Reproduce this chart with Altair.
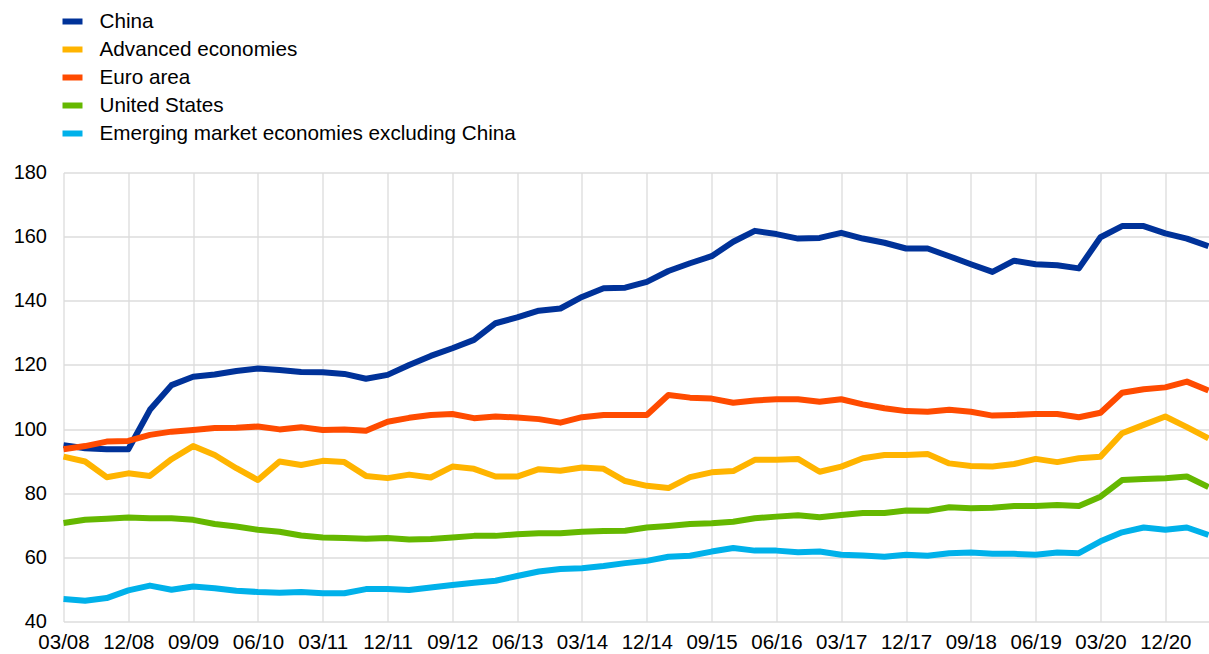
import altair as alt
import pandas as pd

# Quarterly data, Q1 2008 - Q2 2021
tick_labels = ["03/08", "12/08", "09/09", "06/10", "03/11", "12/11", "09/12", "06/13", "03/14",
               "12/14", "09/15", "06/16", "03/17", "12/17", "09/18", "06/19", "03/20", "12/20"]

series_names = ["China", "Advanced economies", "Euro area", "United States",
                "Emerging market economies excluding China"]
series_colors = ["#003299", "#FFB400", "#FF4B00", "#65B800", "#00B1EA"]

china = [95.0, 94.0, 93.7, 93.7, 106.0, 113.7, 116.3, 117.0, 118.1, 118.9,
         118.4, 117.8, 117.7, 117.2, 115.7, 116.9, 120.0, 122.8, 125.2, 127.8,
         133.0, 134.8, 136.9, 137.6, 141.2, 143.9, 144.1, 145.9, 149.3, 151.7,
         153.9, 158.4, 161.8, 160.8, 159.4, 159.6, 161.2, 159.4, 158.1, 156.3,
         156.3, 153.9, 151.4, 149.0, 152.5, 151.4, 151.1, 150.1, 159.8, 163.3,
         163.3, 161.0, 159.4, 157.0]
advanced = [91.4, 89.9, 85.0, 86.2, 85.4, 90.6, 94.7, 91.9, 87.8, 84.1,
            89.9, 88.8, 90.1, 89.7, 85.4, 84.7, 85.8, 84.9, 88.3, 87.6,
            85.2, 85.2, 87.5, 87.0, 88.0, 87.6, 83.8, 82.3, 81.6, 85.0,
            86.5, 86.9, 90.4, 90.4, 90.7, 86.7, 88.3, 90.9, 91.9, 91.9,
            92.2, 89.3, 88.5, 88.3, 89.1, 90.7, 89.7, 90.9, 91.4, 98.7,
            101.3, 103.9, 100.6, 97.1]
euro = [93.7, 94.7, 96.1, 96.3, 98.2, 99.2, 99.7, 100.3, 100.4, 100.8,
        99.9, 100.6, 99.7, 99.9, 99.5, 102.3, 103.5, 104.4, 104.7, 103.4,
        103.9, 103.6, 103.1, 102.0, 103.7, 104.4, 104.4, 104.4, 110.6, 109.8,
        109.5, 108.2, 108.9, 109.3, 109.3, 108.5, 109.3, 107.7, 106.5, 105.6,
        105.4, 106.0, 105.4, 104.2, 104.4, 104.7, 104.7, 103.7, 105.1, 111.3,
        112.4, 113.0, 114.8, 112.0]
us = [70.7, 71.7, 72.0, 72.4, 72.2, 72.2, 71.7, 70.4, 69.6, 68.6,
      68.0, 66.8, 66.2, 66.0, 65.8, 66.0, 65.6, 65.7, 66.2, 66.7,
      66.7, 67.2, 67.5, 67.5, 68.0, 68.2, 68.3, 69.3, 69.8, 70.4,
      70.6, 71.1, 72.2, 72.7, 73.1, 72.5, 73.2, 73.8, 73.8, 74.6,
      74.5, 75.6, 75.3, 75.5, 76.0, 76.0, 76.3, 76.0, 78.9, 84.1,
      84.4, 84.7, 85.2, 81.9]
eme = [47.0, 46.5, 47.3, 49.7, 51.2, 49.9, 50.9, 50.4, 49.6, 49.2,
       49.0, 49.2, 48.8, 48.8, 50.1, 50.1, 49.8, 50.6, 51.4, 52.1,
       52.7, 54.2, 55.6, 56.4, 56.6, 57.3, 58.2, 58.9, 60.2, 60.5,
       61.8, 62.9, 62.1, 62.1, 61.6, 61.8, 60.8, 60.6, 60.2, 60.8,
       60.5, 61.3, 61.5, 61.1, 61.1, 60.8, 61.5, 61.3, 65.0, 67.8,
       69.3, 68.6, 69.3, 67.0]

all_series = [china, advanced, euro, us, eme]
rows = []
for order, (name, vals) in enumerate(zip(series_names, all_series)):
    for q, v in enumerate(vals):
        rows.append({"quarter": q, "series": name, "value": v, "order": order})
df = pd.DataFrame(rows)

n_q = len(china)
tick_values = list(range(0, 3 * len(tick_labels), 3))
label_js = "[" + ",".join("'" + t + "'" for t in tick_labels) + "]"

FONT = "Liberation Sans"

chart = alt.Chart(df).mark_line(strokeWidth=6, strokeJoin="round").encode(
    x=alt.X("quarter:Q",
            scale=alt.Scale(domain=[0, n_q - 1], nice=False, zero=False),
            axis=alt.Axis(values=tick_values, labelExpr=label_js + "[datum.value/3]",
                          title=None, grid=True, ticks=False, domain=False,
                          labelPadding=11, labelFontSize=20.5, labelFont=FONT,
                          labelColor="#000000", labelFlush=False)),
    y=alt.Y("value:Q",
            scale=alt.Scale(domain=[40, 180], nice=False, zero=False),
            axis=alt.Axis(values=list(range(40, 181, 20)), title=None, grid=True,
                          ticks=False, domain=False, labelPadding=17,
                          labelFontSize=20, labelFont=FONT, labelColor="#000000")),
    color=alt.Color("series:N",
                    scale=alt.Scale(domain=series_names, range=series_colors),
                    legend=alt.Legend(title=None, orient="none", legendX=-4, legendY=-164,
                                      direction="vertical", symbolType="stroke",
                                      symbolStrokeWidth=6, symbolSize=400,
                                      labelFontSize=20.7, labelFont=FONT, labelColor="#000000",
                                      labelOffset=14, rowPadding=3, padding=0,
                                      labelLimit=800)),
    order=alt.Order("order:Q"),
).properties(
    width=1145, height=449,
    padding={"left": 63.5, "top": 172.5, "right": 0.5, "bottom": 32},
    autosize=alt.AutoSizeParams(type="none"),
).configure_view(stroke=None).configure_axis(
    gridColor="#dcdcdc", gridWidth=1.3
)

chart.save("out.html", embed_options={"renderer": "svg", "actions": False})
